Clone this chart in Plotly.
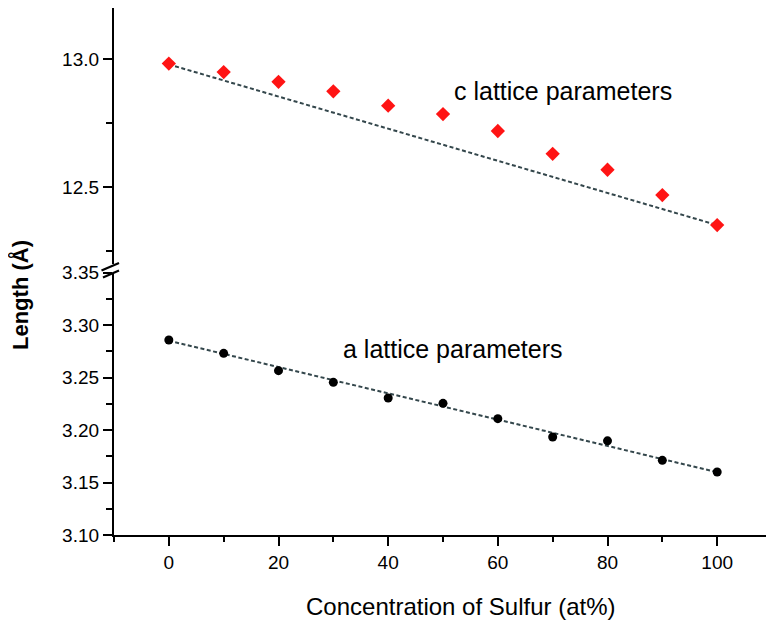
import plotly.graph_objects as go

# ---- data ----
sulfur = [0, 10, 20, 30, 40, 50, 60, 70, 80, 90, 100]
c_param = [12.983, 12.950, 12.912, 12.875, 12.819, 12.786, 12.720, 12.631, 12.569, 12.470, 12.353]
a_param = [3.2857, 3.2730, 3.2565, 3.2454, 3.2305, 3.2254, 3.2108, 3.1933, 3.1897, 3.1711, 3.1600]
fit_x = [0, 100]
c_fit = [12.980, 12.353]
a_fit = [3.2850, 3.1598]

FONT = "Liberation Sans, Arial, sans-serif"
OFF = 8  # page body margin offset
W, H = 774 - OFF, 620 - OFF
L, R, T, B = 114 - OFF, 2, 0, 85
PW, PH = W - L - R, H - T - B


def px(x):
    return (x - OFF - L) / PW


def py(y):
    return (H - B - (y - OFF)) / PH


fig = go.Figure()
fig.add_trace(go.Scatter(x=fit_x, y=c_fit, mode="lines", xaxis="x", yaxis="y2",
                         line=dict(color="#34474c", width=2, dash="4px,2.5px"),
                         showlegend=False, hoverinfo="skip"))
fig.add_trace(go.Scatter(x=sulfur, y=c_param, mode="markers", xaxis="x", yaxis="y2",
                         marker=dict(symbol="diamond", size=11, color="#ff1414"),
                         showlegend=False))
fig.add_trace(go.Scatter(x=fit_x, y=a_fit, mode="lines", xaxis="x", yaxis="y",
                         line=dict(color="#34474c", width=2, dash="4px,2.5px"),
                         showlegend=False, hoverinfo="skip"))
fig.add_trace(go.Scatter(x=sulfur, y=a_param, mode="markers", xaxis="x", yaxis="y",
                         marker=dict(symbol="circle", size=9, color="#000000"),
                         showlegend=False))

tickfont = dict(family=FONT, size=19, color="#000000")
ax_common = dict(showline=True, linecolor="#000000", linewidth=2.2, ticks="outside",
                 tickcolor="#000000", tickwidth=2, showgrid=False, zeroline=False,
                 tickfont=tickfont)

fig.update_layout(
    width=W, height=H,
    margin=dict(l=L, r=R, t=T, b=B, autoexpand=False),
    paper_bgcolor="white", plot_bgcolor="white",
    xaxis=dict(range=[-10, 110], tickvals=[0, 20, 40, 60, 80, 100], ticklen=9,
               minor=dict(dtick=10, tick0=0, ticklen=5, tickwidth=2, tickcolor="#000000", ticks="outside"),
               anchor="y", **ax_common),
    yaxis=dict(range=[3.10, 3.35], domain=[0, py(272.5)], dtick=0.05, tick0=3.10,
               tickformat=".2f", ticklen=9,
               minor=dict(dtick=0.025, tick0=3.10, ticklen=6, tickwidth=2, tickcolor="#000000", ticks="outside"),
               anchor="x", **ax_common),
    yaxis2=dict(range=[12.2, 13.2], domain=[py(264.3), 1.0], tickvals=[12.5, 13.0],
                tickformat=".1f", ticklen=9,
                minor=dict(dtick=0.25, tick0=12.0, ticklen=6, tickwidth=2, tickcolor="#000000", ticks="outside"),
                anchor="x", **ax_common),
)

# axis break marks
for (x0, y0, x1, y1) in [(101.5, 270.5, 119, 263), (103, 277.5, 119, 270.5)]:
    fig.add_shape(type="line", xref="paper", yref="paper",
                  x0=px(x0), y0=py(y0), x1=px(x1), y1=py(y1),
                  line=dict(color="#000000", width=2.2))

ann_font = dict(family=FONT, size=25, color="#000000")
fig.add_annotation(x=51.7, y=12.876, xref="x", yref="y2", text="c lattice parameters",
                   showarrow=False, xanchor="left", yanchor="middle", font=ann_font)
fig.add_annotation(x=31.4, y=3.277, xref="x", yref="y", text="a lattice parameters",
                   showarrow=False, xanchor="left", yanchor="middle", font=ann_font)

fig.add_annotation(x=px(460), y=py(606), xref="paper", yref="paper",
                   text="Concentration of Sulfur (at%)", showarrow=False,
                   xanchor="center", yanchor="middle",
                   font=dict(family=FONT, size=24, color="#000000"))
fig.add_annotation(x=px(20), y=py(295), xref="paper", yref="paper",
                   text="<b>Length (Å)</b>", showarrow=False, textangle=-90,
                   xanchor="center", yanchor="middle",
                   font=dict(family=FONT, size=22, color="#000000"))

fig.write_html("out.html")
